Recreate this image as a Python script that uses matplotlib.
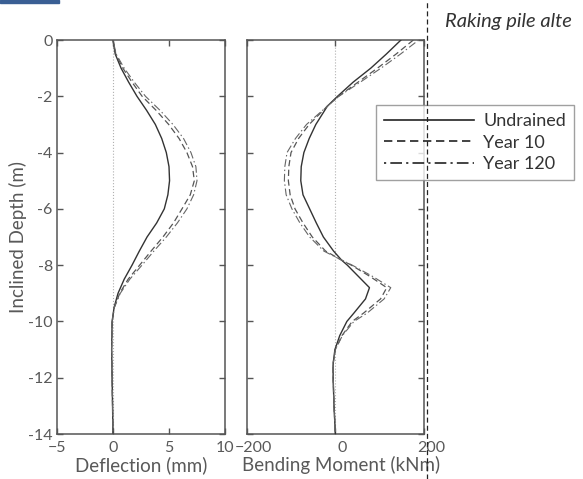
import matplotlib
matplotlib.use("Agg")
import matplotlib.pyplot as plt
from matplotlib.lines import Line2D
from matplotlib.patches import Rectangle
import matplotlib.transforms as mtransforms

plt.rcParams['font.family'] = ['Lato', 'DejaVu Sans']

# ---------------- data ----------------
series_names = ["Undrained", "Year 10", "Year 120"]

defl_depth = [0, -0.5, -1, -1.5, -2, -2.5, -3, -3.5, -4, -4.5, -5, -5.5, -6, -6.5,
              -7, -7.5, -8, -8.5, -9, -9.5, -10, -11, -12, -13, -14]
defl_undrained = [0, 0.2, 0.72, 1.4, 2.14, 3.0, 3.78, 4.35, 4.76, 5.0, 5.05, 4.9, 4.58, 3.9,
                  3.04, 2.35, 1.7, 1.0, 0.45, 0.1, -0.08, -0.12, -0.08, -0.04, 0]
defl_year10 = [0, 0.25, 0.88, 1.7, 2.6, 3.85, 4.97, 5.9, 6.6, 7.1, 7.26, 6.9, 6.16, 5.4,
               4.46, 3.4, 2.38, 1.35, 0.6, 0.12, -0.08, -0.12, -0.08, -0.04, 0]
defl_year120 = [0, 0.28, 1.0, 1.9, 2.9, 4.2, 5.35, 6.3, 6.96, 7.4, 7.5, 7.2, 6.6, 5.75,
                4.76, 3.65, 2.59, 1.5, 0.65, 0.12, -0.08, -0.12, -0.08, -0.04, 0]

bm_depth = [0, -0.5, -1, -1.5, -2, -2.35, -3, -3.5, -4, -4.5, -5, -5.5, -6, -6.5, -7,
            -7.5, -7.82, -8, -8.4, -8.8, -9.2, -9.7, -10, -10.5, -11, -11.5, -12, -13, -14]
bm_undrained = [148, 115, 80, 40, 5, -18, -44, -59, -71, -77, -78, -73, -58, -43, -27,
                -4, 14, 27, 52, 77, 68, 42, 26, 10, -1, -5, -5, -3, 0]
bm_year10 = [176, 137, 95, 51, 7, -18, -59, -83, -100, -105, -106, -102, -91, -73, -52,
             -22, 14, 36, 78, 116, 102, 64, 38, 15, 0, -5, -5, -3, 0]
bm_year120 = [188, 147, 103, 56, 8, -18, -65, -90, -109, -114, -115, -111, -98, -80, -58,
              -26, 14, 38, 84, 125, 110, 72, 42, 16, 0, -5, -5, -3, 0]

defl_ticks = [-5, 0, 5, 10]
bm_ticks = [-200, 0, 200]
depth_ticks = [0, -2, -4, -6, -8, -10, -12, -14]

# ---------------- styling ----------------
W, H = 583, 479
fig = plt.figure(figsize=(W / 100, H / 100), dpi=100)

text_col = '#595959'
spine_col = '#555555'

styles = [
    dict(color='#333333', lw=1.0, linestyle='-'),
    dict(color='#555555', lw=0.9, linestyle=(0, (5, 2.8))),
    dict(color='#666666', lw=0.8, linestyle=(0, (1.3, 2.5, 7, 2.5))),
]

def px_rect(x0, y0, x1, y1):
    return [x0 / W, 1 - y1 / H, (x1 - x0) / W, (y1 - y0) / H]

ax1 = fig.add_axes(px_rect(57, 40, 225, 434))
ax2 = fig.add_axes(px_rect(246.7, 40, 424, 434))

for ax in (ax1, ax2):
    for s in ax.spines.values():
        s.set_color(spine_col)
        s.set_linewidth(1.1)
    ax.tick_params(direction='in', length=4, width=1, color=spine_col,
                   top=True, right=True, labelsize=11.5, labelcolor=text_col, pad=3)
    ax.tick_params(axis='x', pad=5)
    ax.set_ylim(-14, 0)
    ax.set_yticks(depth_ticks)
    ax.axvline(0, color='#b0b0b0', lw=0.8, linestyle=':', zorder=1)

ax1.set_xlim(-5, 10)
ax1.set_xticks(defl_ticks)
ax1.set_yticklabels([str(t) for t in depth_ticks])
ax2.set_xlim(-200, 200)
ax2.set_xticks(bm_ticks)
ax2.set_yticklabels([])

# small horizontal offset of the right panel tick labels, as in the reference
off2 = mtransforms.ScaledTranslation(7 / 100, 0, fig.dpi_scale_trans)
for lab in ax2.get_xticklabels():
    lab.set_transform(lab.get_transform() + off2)

defl_series = [defl_undrained, defl_year10, defl_year120]
bm_series = [bm_undrained, bm_year10, bm_year120]
for vals, st, name in zip(defl_series, styles, series_names):
    ax1.plot(vals, defl_depth, label=name, zorder=3, **st)
for vals, st in zip(bm_series, styles):
    ax2.plot(vals, bm_depth, zorder=3, **st)

ax1.set_xlabel('Deflection (mm)', fontsize=13.5, color=text_col, labelpad=1)
ax2.set_xlabel('Bending Moment (kNm)', fontsize=13.5, color=text_col, labelpad=1)
ax2.xaxis.label.set_x(0.535)
ax1.set_ylabel('Inclined Depth (m)', fontsize=13.5, color=text_col, labelpad=1)

leg_handles = [Line2D([], [], color='#222222', lw=1.2, linestyle=st['linestyle']) for st in styles]
leg = fig.legend(leg_handles, series_names, loc='upper left',
                 bbox_to_anchor=(376 / W, 1 - 105 / H),
                 fontsize=13, frameon=True, fancybox=False, handlelength=5.0,
                 handletextpad=0.5, borderpad=0.45, borderaxespad=0, labelspacing=0.3,
                 labelcolor='#333333')
leg.get_frame().set_edgecolor('#888888')
leg.get_frame().set_linewidth(1.0)
leg.set_zorder(5)

# page decorations around the figure
fig.add_artist(Line2D([427 / W, 427 / W], [0, 1], color='#222222', lw=0.9,
                      linestyle=(0, (4, 2.5)), zorder=10))
fig.add_artist(Rectangle((0, 1 - 3 / H), 59 / W, 3 / H, color='#3a5f94', zorder=10))
fig.text(445 / W, 1 - 27 / H, 'Raking pile alte', fontsize=14.5, style='italic',
         color='#333333', ha='left', va='baseline')

fig.savefig('out.png', dpi=100)
